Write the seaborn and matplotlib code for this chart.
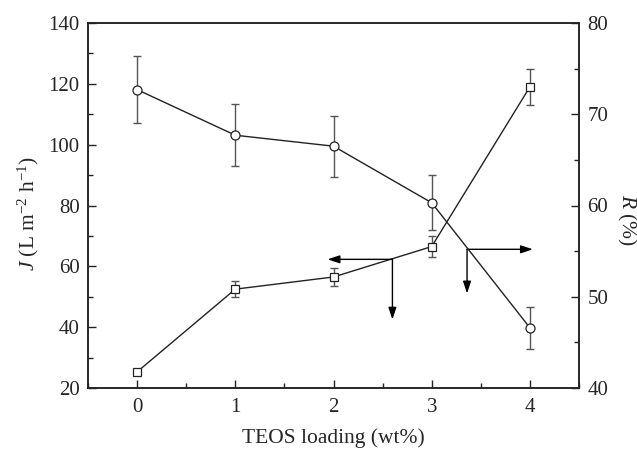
import numpy as np
import pandas as pd
import matplotlib
matplotlib.use("Agg")
import matplotlib.pyplot as plt
import seaborn as sns
from matplotlib.ticker import MultipleLocator

# ---- data ----
teos = [0, 1, 2, 3, 4]
flux_J = [25.3, 52.5, 56.5, 66.5, 119.0]          # squares, left axis
flux_err = [0.8, 2.6, 2.9, 3.4, 5.9]
rej_R = [72.7, 67.7, 66.5, 60.3, 46.6]            # circles, right axis
rej_err = [3.67, 3.4, 3.33, 3.0, 2.33]

# arrow annotations (start point, horizontal end, vertical end) in J units
arrow_left = dict(x=2.60, y=62.3, x_end=1.94, y_end=42.5)
arrow_right = dict(x=3.36, y=65.6, x_end=4.03, y_end=51.1)

sns.set_theme(style="ticks")
plt.rcParams['font.family'] = ['Liberation Serif', 'DejaVu Serif']
plt.rcParams['mathtext.fontset'] = 'custom'
plt.rcParams['mathtext.rm'] = 'Liberation Serif'
plt.rcParams['mathtext.it'] = 'Liberation Serif:italic'

fig = plt.figure(figsize=(6.37, 4.53), dpi=100)
ax = fig.add_axes([88/637, 1-388/453, (579-88)/637, (388-23)/453])
ax2 = ax.twinx()

line_c = "#222222"
err_c = "#555555"

df1 = pd.DataFrame({"x": teos, "y": flux_J})
df2 = pd.DataFrame({"x": teos, "y": rej_R})

ax.errorbar(teos, flux_J, yerr=flux_err, fmt='none', ecolor=err_c,
            elinewidth=1.0, capsize=3, capthick=1.0, zorder=2)
sns.lineplot(data=df1, x="x", y="y", ax=ax, color=line_c, lw=1.0,
             marker='s', markersize=5.5, markerfacecolor='white',
             markeredgecolor=line_c, markeredgewidth=0.9, zorder=3)

ax2.errorbar(teos, rej_R, yerr=rej_err, fmt='none', ecolor=err_c,
             elinewidth=1.0, capsize=3, capthick=1.0, zorder=2)
sns.lineplot(data=df2, x="x", y="y", ax=ax2, color=line_c, lw=1.0,
             marker='o', markersize=6.5, markerfacecolor='white',
             markeredgecolor=line_c, markeredgewidth=0.9, zorder=3)

ax.set_xlim(-0.5, 4.5)
ax.set_ylim(20, 140)
ax2.set_ylim(40, 80)

ax.xaxis.set_major_locator(MultipleLocator(1))
ax.xaxis.set_minor_locator(MultipleLocator(0.5))
ax.yaxis.set_major_locator(MultipleLocator(20))
ax.yaxis.set_minor_locator(MultipleLocator(10))
ax2.yaxis.set_major_locator(MultipleLocator(10))
ax2.yaxis.set_minor_locator(MultipleLocator(5))

for a in (ax, ax2):
    a.tick_params(which='major', direction='in', length=6, width=1.0,
                  labelsize=15, color='#222222')
    a.tick_params(which='minor', direction='in', length=3.5, width=1.0,
                  color='#222222')
    for s in a.spines.values():
        s.set_linewidth(1.1)
        s.set_color('#222222')
ax.tick_params(axis='x', which='both', top=False, pad=7)
ax.tick_params(axis='y', which='both', right=False, pad=6)
ax2.tick_params(axis='y', which='both', pad=6)

ax.set_xlabel("TEOS loading (wt%)", fontsize=15.5, labelpad=8)
ax.set_ylabel(r"$\mathit{J}$ (L m$^{-2}$ h$^{-1}$)", fontsize=15.5)
ax.yaxis.label.set_verticalalignment('center')
ax.yaxis.set_label_coords(-(88 - 28) / 491, 0.477)
ax2.set_ylabel(r"$\mathit{R}$ (%)", fontsize=15.5, rotation=270)
ax2.yaxis.label.set_verticalalignment('center')
ax2.yaxis.set_label_coords(1 + (627 - 579) / 491, 0.46)

ap = dict(arrowstyle='-|>,head_length=0.6,head_width=0.2', color='black',
          lw=1.0, mutation_scale=12, shrinkA=0, shrinkB=0)
for arr in (arrow_left, arrow_right):
    ax.annotate("", xy=(arr["x_end"], arr["y"]), xytext=(arr["x"], arr["y"]),
                arrowprops=ap, zorder=5)
    ax.annotate("", xy=(arr["x"], arr["y_end"]), xytext=(arr["x"], arr["y"]),
                arrowprops=ap, zorder=5)

fig.savefig("out.png", dpi=100)
